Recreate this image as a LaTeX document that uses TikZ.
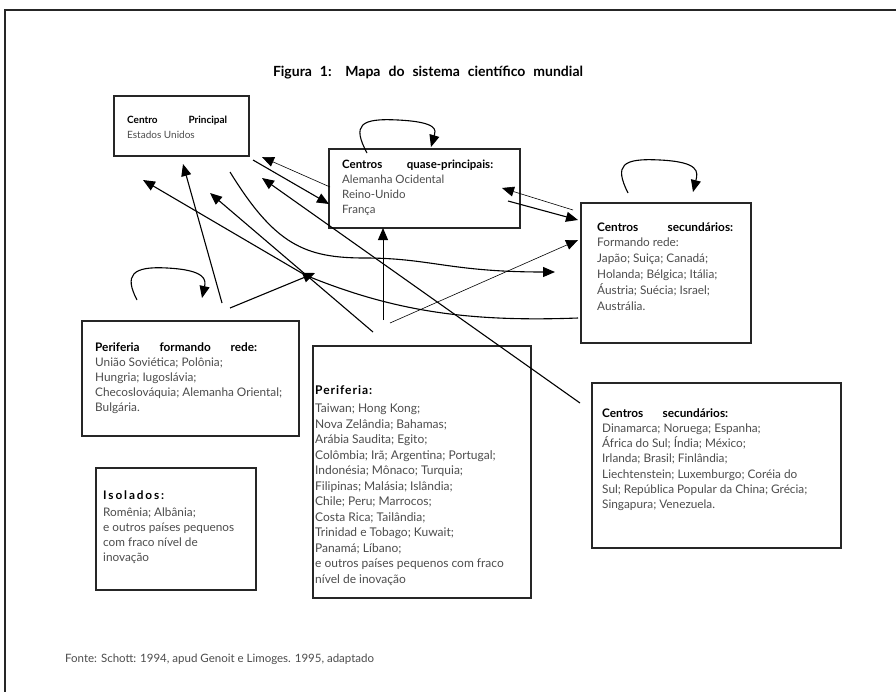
\documentclass[tikz,border=0pt]{standalone}
\usepackage{fontspec}
\setmainfont{Lato}
\usetikzlibrary{arrows.meta}
\definecolor{txtgray}{gray}{0.3}
\newcommand{\jtitle}[2]{\makebox[#1][s]{\bfseries\color{black}#2}}
\tikzset{
  box/.style={draw=black!85, line width=2.2pt, anchor=north west, inner sep=0pt},
  txt/.style={anchor=base west, inner sep=0pt, text=txtgray},
  conn/.style={line width=1.1pt, -{Triangle[length=12pt,width=10pt]}},
  thinconn/.style={line width=0.6pt, -{Triangle[length=12pt,width=10pt]}},
}
\begin{document}
\begin{tikzpicture}[x=1pt,y=-1pt]
\useasboundingbox (0,0) rectangle (896,691);
\clip (0,0) rectangle (896,691);
\draw[line width=2pt, black!85] (5,10) rectangle (910,710);

% title
\node[anchor=base, inner sep=0pt, font=\fontsize{14}{16}\selectfont] (title) at (428,76)
  {\makebox[310pt][s]{\bfseries Figura 1: Mapa do sistema científico mundial}};

% boxes
\node[box, minimum width=135pt, minimum height=60pt] (cp) at (113,95) {};
\node[box, minimum width=191pt, minimum height=79pt] (qp) at (328,148) {};
\node[box, minimum width=170pt, minimum height=140pt] (cs1) at (580,202) {};
\node[box, minimum width=217pt, minimum height=115pt] (pfr) at (81,320) {};
\node[box, minimum width=218pt, minimum height=252pt] (per) at (312,345) {};
\node[box, minimum width=249pt, minimum height=165pt] (cs2) at (591,382) {};
\node[box, minimum width=160pt, minimum height=122pt] (iso) at (95,467) {};

% texts
\node[txt] (cpt) at (127,123) {\parbox[t]{130pt}{\fontsize{10}{15}\selectfont
  \jtitle{100pt}{Centro Principal}\\Estados Unidos}};
\node[txt] (qpt) at (342,168) {\parbox[t]{175pt}{\fontsize{11.5}{15}\selectfont
  \jtitle{151pt}{Centros quase-principais:}\\Alemanha Ocidental\\Reino-Unido\\França}};
\node[txt] (cs1t) at (597,231) {\parbox[t]{160pt}{\fontsize{11.8}{15.8}\selectfont
  \jtitle{136pt}{Centros secundários:}\\Formando rede:\\Japão; Suiça; Canadá;\\Holanda; Bélgica; Itália;\\Áustria; Suécia; Israel;\\Austrália.}};
\node[txt] (pfrt) at (95,351) {\parbox[t]{200pt}{\fontsize{11.8}{15}\selectfont
  \jtitle{162pt}{Periferia formando rede:}\\União Soviética; Polônia;\\Hungria; Iugoslávia;\\Checoslováquia; Alemanha Oriental;\\Bulgária.}};
\node[txt] (pert) at (315,386) {\parbox[t]{212pt}{\fontsize{12}{15.5}\selectfont
  {\bfseries\color{black}\addfontfeatures{LetterSpace=8}Periferia:}\\[2.5pt]Taiwan; Hong Kong;\\Nova Zelândia; Bahamas;\\Arábia Saudita; Egito;\\Colômbia; Irã; Argentina; Portugal;\\Indonésia; Mônaco; Turquia;\\Filipinas; Malásia; Islândia;\\Chile; Peru; Marrocos;\\Costa Rica; Tailândia;\\Trinidad e Tobago; Kuwait;\\Panamá; Líbano;\\e outros países pequenos com fraco\\nível de inovação}};
\node[txt] (cs2t) at (602,417) {\parbox[t]{235pt}{\fontsize{11.8}{15.3}\selectfont
  \jtitle{126pt}{Centros secundários:}\\Dinamarca; Noruega; Espanha;\\África do Sul; Índia; México;\\Irlanda; Brasil; Finlândia;\\Liechtenstein; Luxemburgo; Coréia do\\Sul; República Popular da China; Grécia;\\Singapura; Venezuela.}};
\node[txt] (isot) at (103,491) {\parbox[t]{150pt}{\fontsize{11.8}{15}\selectfont
  {\bfseries\color{black}\addfontfeatures{LetterSpace=16}Isolados:}\\[2pt]Romênia; Albânia;\\e outros países pequenos\\com fraco nível de\\inovação}};

\node[txt, font=\fontsize{11.5}{13}\selectfont] (src) at (65,662)
  {Fonte: Schott: 1994, apud Genoit e Limoges. 1995, adaptado};

% connector end points
\coordinate (a1s) at (222,303); \coordinate (a1e) at (183,164);
\coordinate (a2s) at (230,172); \coordinate (a2e) at (555,272);
\coordinate (a3s) at (330,187); \coordinate (a3e) at (262,157);
\coordinate (a4s) at (253,160); \coordinate (a4e) at (329,204);
\coordinate (a5s) at (580,403); \coordinate (a5e) at (262,178);
\coordinate (a6s) at (373,332); \coordinate (a6e) at (210,193);
\coordinate (a7s) at (578,318); \coordinate (a7m) at (305,275); \coordinate (a7e) at (143,180);
\coordinate (a8s) at (230,308); \coordinate (a8e) at (315,273);
\coordinate (a9s) at (383,320); \coordinate (a9e) at (383,228);
\coordinate (a10s) at (390,323); \coordinate (a10e) at (578,240);
\coordinate (a11s) at (573,210); \coordinate (a11e) at (502,188);
\coordinate (a12s) at (508,201); \coordinate (a12e) at (578,220);
\coordinate (l1s) at (367,153); \coordinate (l1m) at (398,120); \coordinate (l1e) at (431,147);
\coordinate (l2s) at (628,193); \coordinate (l2m) at (660,160); \coordinate (l2e) at (693,192);
\coordinate (l3s) at (137,300); \coordinate (l3m) at (167,268); \coordinate (l3e) at (202,298);

% connectors
\draw[conn] (a1s) -- (a1e);
\draw[conn] (a2s) .. controls (275,245) and (305,258) .. (365,258)
  .. controls (430,258) and (450,272) .. (a2e);
\draw[thinconn] (a3s) -- (a3e);
\draw[conn] (a4s) -- (a4e);
\draw[conn] (a5s) -- (a5e);
\draw[conn] (a6s) -- (a6e);
\draw[conn] (a7s) .. controls (470,322) and (395,312) .. (a7m) -- (a7e);
\draw[conn] (a8s) -- (a8e);
\draw[conn, line width=0.9pt] (a9s) -- (a9e);
\draw[thinconn] (a10s) -- (a10e);
\draw[thinconn] (a11s) -- (a11e);
\draw[conn] (a12s) -- (a12e);
\draw[conn] (l1s) .. controls (352,125) and (360,118) .. (l1m) .. controls (438,122) and (436,130) .. (l1e);
\draw[conn] (l2s) .. controls (614,165) and (622,158) .. (l2m) .. controls (700,162) and (698,172) .. (l2e);
\draw[conn] (l3s) .. controls (124,275) and (132,266) .. (l3m) .. controls (206,270) and (206,280) .. (l3e);
\end{tikzpicture}
\end{document}
